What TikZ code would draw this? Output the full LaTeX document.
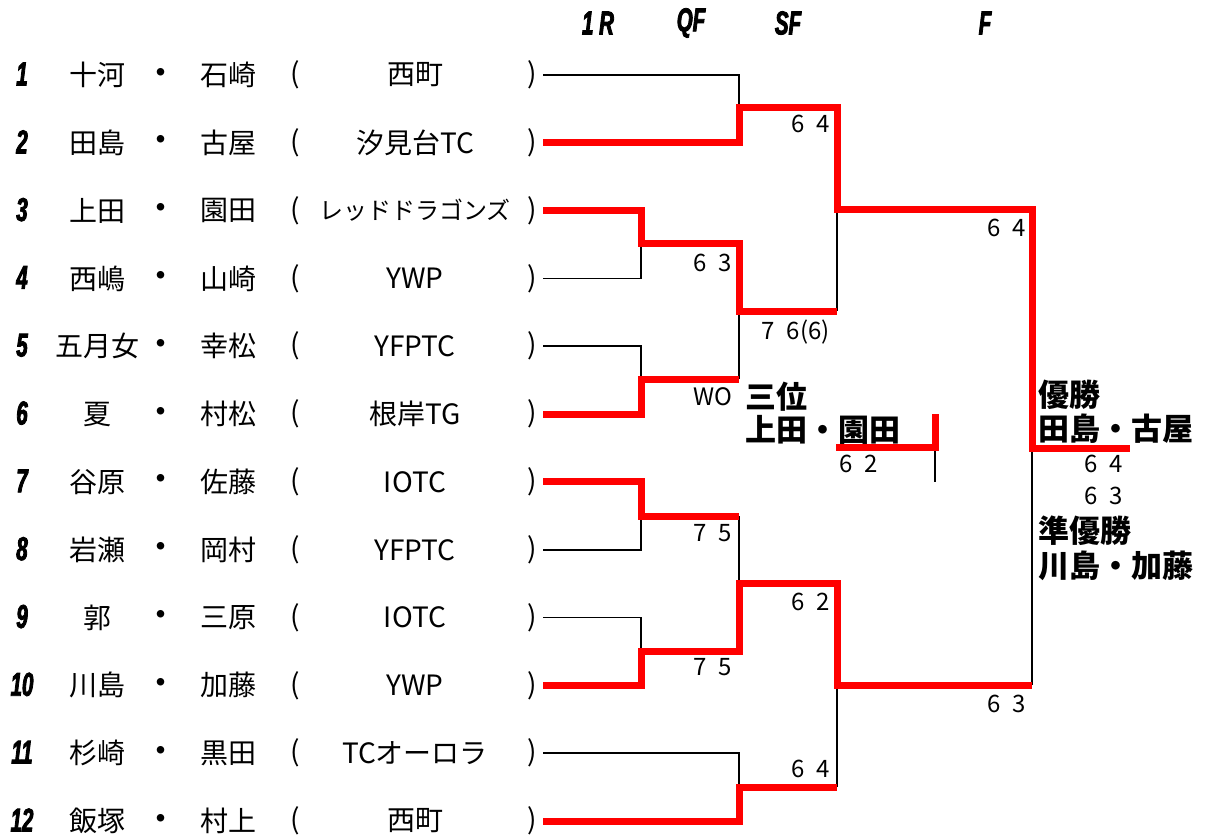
\documentclass[tikz,border=0pt]{standalone}
\usepackage{fontspec}
\setmainfont{Noto Sans CJK JP}
\newfontfamily\condfont{Liberation Sans}[UprightFont={* Bold Italic},FakeStretch=0.62,FakeBold=2.5]
\newfontfamily\scorefont{Noto Sans CJK JP}[WordSpace=2.2]
\usepackage{xcolor}
\usepackage{tikz}
\definecolor{winred}{HTML}{FF0000}

\begin{document}
\begin{tikzpicture}[x=1pt,y=-1pt,
  txt/.style={inner sep=0pt,font=\fontsize{28}{30}\selectfont},
  seed/.style={inner sep=0pt,font=\condfont\fontsize{33}{35}\selectfont},
  score/.style={inner sep=0pt,anchor=east,font=\scorefont\fontsize{24}{26}\selectfont},
  title/.style={inner sep=0pt,anchor=west,font=\bfseries\fontsize{31}{33}\selectfont},
  lose/.style={line width=1.8pt},
  win/.style={line width=7pt,draw=winred,line join=miter}
]
  \useasboundingbox (0,0) rectangle (1205,837);

  % round headers
  \node[seed] (h1r) at (598,23) {1 R};
  \node[seed] (hqf) at (691,23) {QF};
  \node[seed] (hsf) at (788,23) {SF};
  \node[seed] (hf)  at (985,23) {F};

  % entries
  \foreach \i/\na/\nb/\club/\fs in {
      1/十河/石崎/西町/28, 2/田島/古屋/汐見台TC/28,
      3/上田/園田/レッドドラゴンズ/24, 4/西嶋/山崎/YWP/28,
      5/五月女/幸松/YFPTC/28, 6/夏/村松/根岸TG/28,
      7/谷原/佐藤/IOTC/28, 8/岩瀬/岡村/YFPTC/28,
      9/郭/三原/IOTC/28, 10/川島/加藤/YWP/28,
      11/杉崎/黒田/TCオーロラ/28, 12/飯塚/村上/西町/28}{
    \pgfmathsetmacro{\yy}{75+(\i-1)*67.82}
    \node[seed] (no\i) at (22,\yy-1) {\i};
    \node[txt] (na\i) at (97,\yy) {\na};
    \node[txt,font=\bfseries\fontsize{27}{30}\selectfont] (dt\i) at (161,\yy) {・};
    \node[txt] (nb\i) at (228,\yy) {\nb};
    \node[txt] (lp\i) at (295,\yy) {(};
    \node[txt,font=\fontsize{\fs}{30}\selectfont] (cl\i) at (415,\yy) {\club};
    \node[txt] (rp\i) at (532,\yy) {)};
    \coordinate (s\i) at (543,\yy);
  }

  % match points
  \coordinate (r1a) at (641,244);
  \coordinate (r1b) at (641,379);
  \coordinate (r1c) at (641,516);
  \coordinate (r1d) at (641,651);
  \coordinate (qf1) at (739,108);
  \coordinate (qf2) at (739,311);
  \coordinate (qf3) at (739,583);
  \coordinate (qf4) at (739,787);
  \coordinate (sf1) at (837,210);
  \coordinate (sf2) at (837,685);
  \coordinate (fin) at (1032,448);
  \coordinate (champ) at (1130,448);
  \coordinate (thd) at (935,447);
  \coordinate (thdup) at (935,414);
  \coordinate (thddn) at (935,482);
  \coordinate (thdend) at (836,447);

  % losers
  \draw[lose] (s1) -| (qf1);
  \draw[lose] (s4) -| (r1a);
  \draw[lose] (s5) -| (r1b);
  \draw[lose] (s8) -| (r1c);
  \draw[lose] (s9) -| (r1d);
  \draw[lose] (s11) -| (qf4);
  \draw[lose] (qf2) -- (qf2 |- r1b);
  \draw[lose] (qf3) -- (qf3 |- r1c);
  \draw[lose] (sf1) -- (sf1 |- qf2);
  \draw[lose] (sf2) -- (sf2 |- qf4);
  \draw[lose] (fin) -- (fin |- sf2);
  \draw[lose] (thd) -- (thddn);

  % winners
  \draw[win] (s2) -| (qf1) -| (sf1) -| (fin) -- (champ);
  \draw[win] (s3) -| (r1a) -| (qf2) -- (qf2 -| sf1);
  \draw[win] (s6) -| (r1b) -- (r1b -| qf2);
  \draw[win] (s7) -| (r1c) -- (r1c -| qf3);
  \draw[win] (s10) -| (r1d) -| (qf3) -| (sf2) -- (sf2 -| fin);
  \draw[win] (s12) -| (qf4) -- (qf4 -| sf2);
  \draw[win] (thdup) -- (thd) -- (thdend);

  % scores
  \node[score] (sc1)  at (830,124) {6 4};
  \node[score] (sc2)  at (732,263) {6 3};
  \node[score] (sc3)  at (830,332) {7 6(6)};
  \node[score] (sc4)  at (732,397) {WO};
  \node[score] (sc5)  at (1026,228) {6 4};
  \node[score] (sc6)  at (732,533) {7 5};
  \node[score] (sc7)  at (732,667) {7 5};
  \node[score] (sc8)  at (830,602) {6 2};
  \node[score] (sc9)  at (830,769) {6 4};
  \node[score] (sc10) at (1026,704) {6 3};
  \node[score] (sc11) at (878,464) {6 2};
  \node[score] (sc12) at (1123,464) {6 4};
  \node[score] (sc13) at (1123,496) {6 3};

  % results
  \node[title] (third) at (745,397) {三位};
  \node[title] (thirdp) at (745,430) {上田・園田};
  \node[title] (champt) at (1038,395) {優勝};
  \node[title] (champp) at (1038,429) {田島・古屋};
  \node[title] (runt) at (1038,531) {準優勝};
  \node[title] (runp) at (1038,566) {川島・加藤};
\end{tikzpicture}
\end{document}
